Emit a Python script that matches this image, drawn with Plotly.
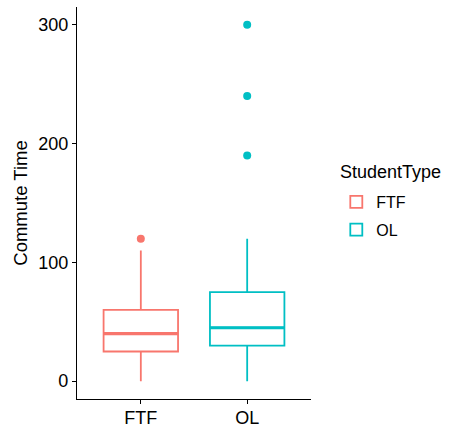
import plotly.graph_objects as go

# ---- data ----
categories = ["FTF", "OL"]
colors = ["#F8766D", "#00BFC4"]
q1 = [25, 30]
medians = [40, 45]
q3 = [60, 75]
lower_whisker = [0, 0]
upper_whisker = [110, 120]
outliers = [[120], [190, 240, 300]]
y_ticks = [0, 100, 200, 300]
legend_title = "StudentType"
y_title = "Commute Time"

box_width = 0.7
font_family = "Liberation Sans, Arial, sans-serif"

fig = go.Figure()
for i, cat in enumerate(categories):
    pos = i + 1
    fig.add_trace(go.Box(
        name=cat,
        x=[pos],
        q1=[q1[i]], median=[medians[i]], q3=[q3[i]],
        lowerfence=[lower_whisker[i]], upperfence=[upper_whisker[i]],
        width=box_width,
        line=dict(color=colors[i], width=1.8),
        fillcolor="white",
        boxpoints=False,
        whiskerwidth=0,
        hoverinfo="skip",
        legendgroup=cat,
    ))
    # thicker median line (ggplot style)
    fig.add_trace(go.Scatter(
        x=[pos - box_width / 2, pos + box_width / 2],
        y=[medians[i], medians[i]],
        mode="lines",
        line=dict(color=colors[i], width=3.2),
        showlegend=False,
        hoverinfo="skip",
        legendgroup=cat,
    ))
    fig.add_trace(go.Scatter(
        x=[pos] * len(outliers[i]),
        y=outliers[i],
        mode="markers",
        marker=dict(color=colors[i], size=8),
        showlegend=False,
        hoverinfo="skip",
        legendgroup=cat,
    ))

fig.add_annotation(
    text=legend_title, xref="paper", yref="paper",
    x=1.115, y=0.579, xanchor="left", yanchor="middle",
    showarrow=False, font=dict(size=18, color="black"),
)

fig.update_layout(
    width=449, height=427,
    margin=dict(l=77, r=138, t=7, b=28),
    plot_bgcolor="white", paper_bgcolor="white",
    boxmode="overlay",
    font=dict(family=font_family, color="black"),
    legend=dict(
        font=dict(size=16, color="black"),
        xref="container", yref="container",
        x=0.749, y=1 - 185 / 427, xanchor="left", yanchor="top",
        tracegroupgap=4,
        bgcolor="rgba(0,0,0,0)",
    ),
    xaxis=dict(
        range=[0.4, 2.6],
        tickvals=[1, 2], ticktext=categories,
        showline=True, linecolor="black", linewidth=1.2,
        ticks="outside", ticklen=4, tickcolor="black", tickwidth=1.2,
        showgrid=False, zeroline=False, automargin=False,
        ticklabelstandoff=-2,
        tickfont=dict(size=18, color="black"),
    ),
    yaxis=dict(
        range=[-15, 315],
        tickvals=y_ticks,
        showline=True, linecolor="black", linewidth=1.2,
        ticks="outside", ticklen=4, tickcolor="black", tickwidth=1.2,
        showgrid=False, zeroline=False, automargin=False,
        tickfont=dict(size=18, color="black"),
        title=dict(text=y_title, font=dict(size=18.5, color="black"), standoff=5),
    ),
)

fig.write_html("out.html", config={"displayModeBar": False},
               post_script="document.body.style.margin='0';")
